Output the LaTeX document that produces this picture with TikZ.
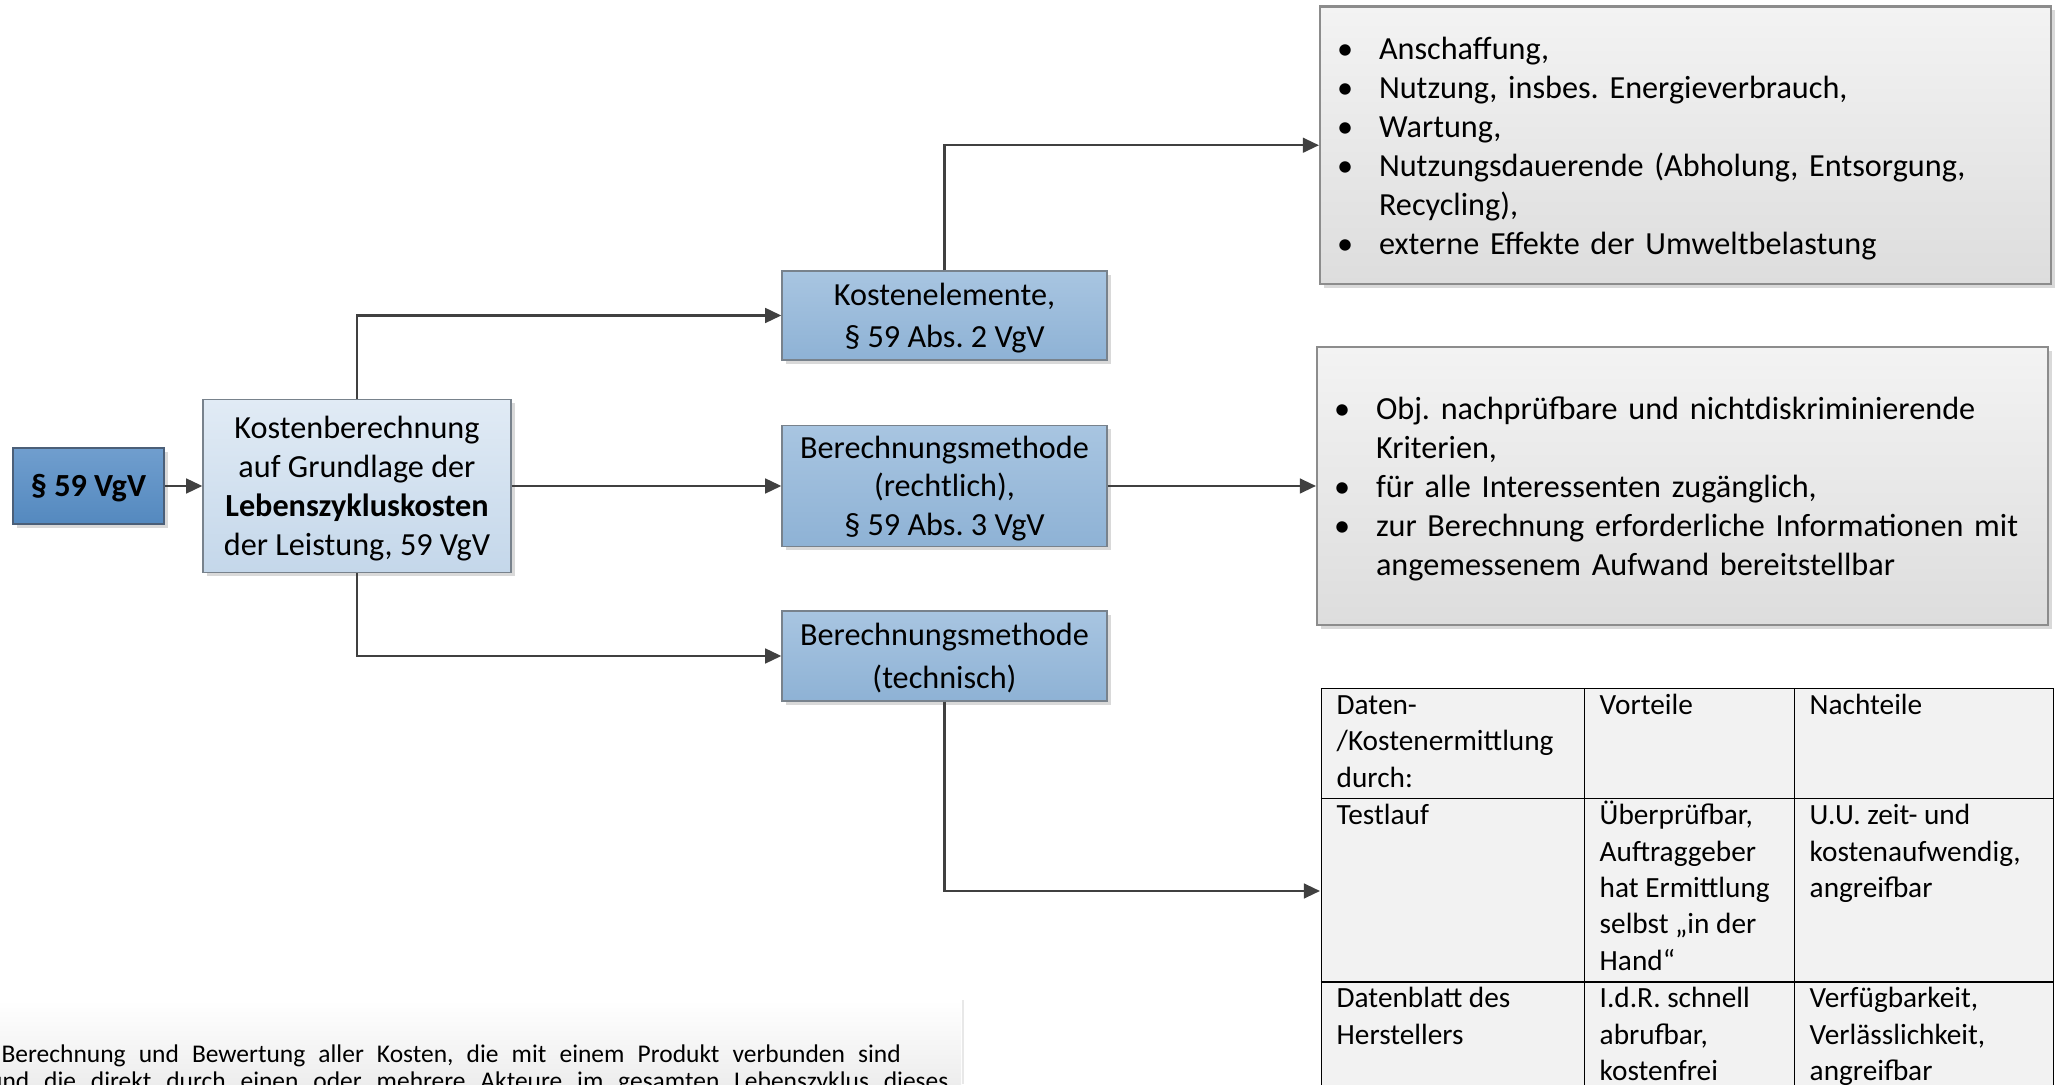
\documentclass[tikz,border=0pt]{standalone}
\usepackage{fontspec}
\setmainfont{Carlito}
\usepackage{array}
\usepackage{enumitem}
\usepackage{tikz}
\usetikzlibrary{arrows.meta, positioning, shadows}

\definecolor{parblue}{RGB}{112, 158, 206}
\definecolor{parbluedark}{RGB}{84, 137, 191}
\definecolor{parframe}{RGB}{75, 95, 120}
\definecolor{paleblue}{RGB}{225, 235, 245}
\definecolor{palebluedark}{RGB}{196, 215, 234}
\definecolor{midblue}{RGB}{168, 197, 225}
\definecolor{midbluedark}{RGB}{142, 178, 213}
\definecolor{boxframe}{RGB}{120, 130, 140}
\definecolor{listtop}{RGB}{243, 243, 243}
\definecolor{listbot}{RGB}{221, 221, 221}
\definecolor{listframe}{RGB}{140, 140, 140}
\definecolor{arrowgray}{RGB}{64, 64, 64}
\definecolor{tabfill}{RGB}{242, 242, 242}

\newcommand{\boxfont}{\fontsize{11}{13.3}\selectfont}
\newcommand{\tabfont}{\fontsize{10}{12.4}\selectfont}
\newcommand{\notefont}{\fontsize{8.7}{10}\selectfont}
\newcommand{\wstrut}{\rule[-0.269em]{0pt}{1.221em}}
\newcommand{\listlift}{\par\vspace{3.6pt}\nointerlineskip\hbox{}}

\newcolumntype{L}[1]{>{\raggedright\arraybackslash}p{#1}}
\setlength{\tabcolsep}{5pt}
\setlength{\arrayrulewidth}{0.5pt}
\setlist[itemize]{label=\textbullet, nosep, leftmargin=0.708cm, labelwidth=0.204cm, labelsep=0.3cm, align=left}

\tikzset{
  conn/.style={draw=arrowgray, line width=0.85pt, -{Triangle[length=5.5pt, width=5pt]}},
  softshadow/.style={drop shadow={shadow xshift=0.045cm, shadow yshift=-0.045cm, fill=black, opacity=0.15}},
  flowbox/.style={draw=boxframe, line width=0.45pt, align=center, inner sep=0pt, font=\boxfont, softshadow},
  bluebox/.style={flowbox, top color=midblue, bottom color=midbluedark, minimum width=3.9cm},
  listbox/.style={draw=listframe, line width=0.7pt, top color=listtop, bottom color=listbot, text width=8.772cm, inner sep=0pt, minimum height=3.33cm, font=\boxfont, align=left, softshadow}
}

\begin{document}
\frenchspacing
\begin{tikzpicture}
  \useasboundingbox (0, 0) rectangle (24.66, 13.008);

  % Start and overview
  \node[flowbox, draw=parframe, top color=parblue, bottom color=parbluedark, minimum width=1.812cm, minimum height=0.912cm, font=\boxfont\bfseries] (vgv) at (1.062, 7.176) {\wstrut§ 59 VgV};
  \node[flowbox, top color=paleblue, bottom color=palebluedark, minimum width=3.696cm, minimum height=2.076cm] (lzk) at (4.284, 7.176) {\wstrut Kostenberechnung\\auf Grundlage der\\\textbf{Lebenszykluskosten}\\der Leistung, 59 VgV\wstrut};

  % Three branches
  \node[bluebox, minimum height=1.068cm] (kosten) at (11.334, 9.222) {\wstrut Kostenelemente,\\§ 59 Abs. 2 VgV\wstrut};
  \node[bluebox, minimum height=1.458cm] (recht) at (11.334, 7.176) {\wstrut Berechnungsmethode\\(rechtlich),\\§ 59 Abs. 3 VgV\wstrut};
  \node[bluebox, minimum height=1.08cm] (technik) at (11.334, 5.136) {\wstrut Berechnungsmethode\\(technisch)\wstrut};

  % Lists on the right
  \node[listbox] (elemente) at (20.226, 11.265) {
    \begin{itemize}
      \item Anschaffung,
      \item Nutzung, insbes. Energieverbrauch,
      \item Wartung,
      \item Nutzungsdauerende (Abholung, Entsorgung,\newline Recycling),
      \item externe Effekte der Umweltbelastung
    \end{itemize}
    \listlift
  };
  \node[listbox, minimum height=3.336cm] (kriterien) at (20.19, 7.176) {
    \begin{itemize}
      \item Obj. nachprüfbare und nichtdiskriminierende\newline Kriterien,
      \item für alle Interessenten zugänglich,
      \item zur Berechnung erforderliche Informationen mit\newline angemessenem Aufwand bereitstellbar
    \end{itemize}
    \listlift
  };

  % Table
  \node[fill=tabfill, inner sep=0pt, anchor=north west, font=\tabfont] (tab) at (15.84, 4.764) {%
    \begin{tabular}{|L{79.3pt}|L{61.2pt}|L{77.9pt}|}
      \hline
      Daten-\newline/Kostenermittlung\newline durch: & Vorteile & Nachteile \\ \hline
      Testlauf & Überprüfbar,\newline Auftraggeber\newline hat Ermittlung\newline selbst „in der\newline Hand“ & U.U. zeit- und\newline kostenaufwendig,\newline angreifbar \\ \hline
      Datenblatt des\newline Herstellers & I.d.R. schnell\newline abrufbar,\newline kostenfrei & Verfügbarkeit,\newline Verlässlichkeit,\newline angreifbar \\ \hline
    \end{tabular}%
  };
  \coordinate (tabin) at (15.84, 2.316);

  % Connectors
  \draw[conn] (vgv) -- (lzk);
  \draw[conn] (lzk.north) |- (kosten);
  \draw[conn] (lzk) -- (recht);
  \draw[conn] (lzk.south) |- (technik);
  \draw[conn] (kosten.north) |- (elemente);
  \draw[conn] (recht) -- (kriterien);
  \draw[conn] (technik.south) |- (tabin);

  % Cut-off definition at the bottom
  \begin{scope}
    \clip (0, 0) rectangle (11.7, 1.1);
    \shade[top color=white, bottom color=black!7] (0, 0) rectangle (11.532, 1.008);
    \draw[black!9, line width=1pt] (11.556, 1.008) -- (11.556, 0);
    \node[font=\notefont, anchor=base west, inner sep=0pt] (def1) at (0.012, 0.256) {\makebox[10.79cm][s]{Berechnung und Bewertung aller Kosten, die mit einem Produkt verbunden sind}};
    \node[font=\notefont, anchor=base west, inner sep=0pt] (def2) at (-0.137, -0.06) {\makebox[11.51cm][s]{und die direkt durch einen oder mehrere Akteure im gesamten Lebenszyklus dieses}};
  \end{scope}
\end{tikzpicture}
\end{document}
